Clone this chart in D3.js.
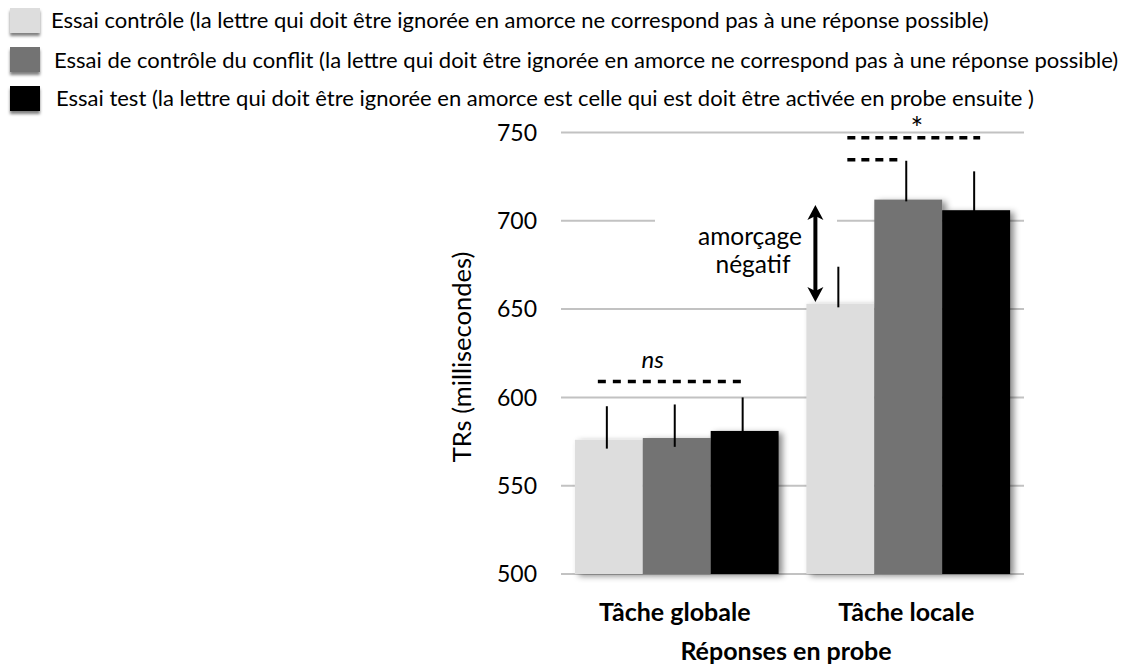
<!DOCTYPE html>
<html>
<head>
<meta charset="utf-8">
<script src="https://cdn.jsdelivr.net/npm/d3@7"></script>
<style>
  html, body { margin: 0; padding: 0; background: #fff; }
  svg { display: block; font-family: Lato, "Open Sans", sans-serif; }
</style>
</head>
<body>
<svg id="chart" width="1133" height="667"></svg>
<script>
// Task conditions (groups on the x axis)
const categories = ["Tâche globale", "Tâche locale"];

// Trial types (one bar per type within each task)
const seriesKeys = ["controle", "conflit", "test"];
const seriesLabels = [
  "Essai contrôle (la lettre qui doit être ignorée en amorce ne correspond pas à une réponse possible)",
  "Essai de contrôle du conflit (la lettre qui doit être ignorée en amorce ne correspond pas à une réponse possible)",
  "Essai test (la lettre qui doit être ignorée en amorce est celle qui est doit être activée en probe ensuite )"
];
const seriesColors = ["#dddddd", "#737373", "#000000"];

// Mean response times (ms), per trial type, for [globale, locale]
const controleRT = [576, 653];
const conflitRT  = [577, 712];
const testRT     = [581, 706];

// Error bar extents (ms): upper end and lower end of each whisker
const controleErrHigh = [595, 674];
const conflitErrHigh  = [596, 734];
const testErrHigh     = [600, 728];
const controleErrLow  = [571, 651];
const conflitErrLow   = [572, 711];
const testErrLow      = [578, 704];

// Y axis ticks
const yTicks = [500, 550, 600, 650, 700, 750];

// Significance markers (ms levels)
const nsLevel = 609;
const starLevels = [747, 734.5];
// Negative priming arrow: from control mean to conflict mean (local task)
const primingFrom = 654;
const primingTo = 709;

const rtBySeries = [controleRT, conflitRT, testRT];
const errHighBySeries = [controleErrHigh, conflitErrHigh, testErrHigh];
const errLowBySeries = [controleErrLow, conflitErrLow, testErrLow];

const svg = d3.select("#chart");

// Shadow filters
const defs = svg.append("defs");
const barShadow = defs.append("filter").attr("id", "barShadow")
  .attr("x", "-10%").attr("y", "-10%").attr("width", "130%").attr("height", "130%");
barShadow.append("feDropShadow")
  .attr("dx", 4).attr("dy", 2).attr("stdDeviation", 3)
  .attr("flood-color", "#000").attr("flood-opacity", 0.45);
const swatchShadow = defs.append("filter").attr("id", "swatchShadow")
  .attr("x", "-20%").attr("y", "-20%").attr("width", "150%").attr("height", "160%");
swatchShadow.append("feDropShadow")
  .attr("dx", 0).attr("dy", 3).attr("stdDeviation", 1.5)
  .attr("flood-color", "#000").attr("flood-opacity", 0.5);

// Scales
const x0 = d3.scaleBand().domain(categories).range([561, 1024])
  .paddingInner(0.12).paddingOuter(0.06);
const x1 = d3.scaleBand().domain(seriesKeys).range([0, x0.bandwidth()]);
const y = d3.scaleLinear().domain([500, 750]).range([574, 132.5]);

// Gridlines
svg.append("g").selectAll("line").data(yTicks).join("line")
  .attr("x1", 561).attr("x2", 1024)
  .attr("y1", d => y(d)).attr("y2", d => y(d))
  .attr("stroke", "#c2c2c2").attr("stroke-width", 2);

// Y tick labels
const yAxis = d3.axisLeft(y).tickValues(yTicks).tickSize(0).tickPadding(0);
const yAxisG = svg.append("g").attr("transform", "translate(537,0)").call(yAxis);
yAxisG.select(".domain").remove();
yAxisG.selectAll("text")
  .attr("font-family", "Lato, sans-serif")
  .attr("font-size", 23).attr("fill", "#000").attr("dy", "0.34em");

// White box behind the negative priming label
svg.append("rect")
  .attr("x", 655).attr("width", 182)
  .attr("y", y(primingTo) - 10).attr("height", y(primingFrom) - y(primingTo) + 4)
  .attr("fill", "#fff");

// Bars
const groups = svg.append("g").selectAll("g").data(categories).join("g")
  .attr("transform", d => `translate(${x0(d)},0)`)
  .attr("filter", "url(#barShadow)");
groups.selectAll("rect")
  .data((c, ci) => seriesKeys.map((k, si) => ({ k, si, v: rtBySeries[si][ci] })))
  .join("rect")
  .attr("x", d => x1(d.k))
  .attr("width", x1.bandwidth())
  .attr("y", d => y(d.v))
  .attr("height", d => y(500) - y(d.v))
  .attr("fill", d => seriesColors[d.si]);

// Error bars
const errData = [];
categories.forEach((c, ci) => seriesKeys.forEach((k, si) => {
  errData.push({ x: x0(c) + x1(k) + x1.bandwidth() / 2,
    hi: errHighBySeries[si][ci], lo: errLowBySeries[si][ci] });
}));
svg.append("g").selectAll("line").data(errData).join("line")
  .attr("x1", d => d.x - 2).attr("x2", d => d.x - 2)
  .attr("y1", d => y(d.hi)).attr("y2", d => y(d.lo))
  .attr("stroke", "#000").attr("stroke-width", 2);

// Helper: center of a bar
const cx = (c, k) => x0(c) + x1(k) + x1.bandwidth() / 2;

// "ns" marker over the global task
const nsG = svg.append("g");
nsG.append("line")
  .attr("x1", cx(categories[0], "controle") - 11).attr("x2", cx(categories[0], "test") + 3)
  .attr("y1", y(nsLevel)).attr("y2", y(nsLevel))
  .attr("stroke", "#000").attr("stroke-width", 3.5).attr("stroke-dasharray", "8,7");
nsG.append("text")
  .attr("x", (cx(categories[0], "controle") + cx(categories[0], "test")) / 2 - 24)
  .attr("y", y(nsLevel) - 14)
  .attr("text-anchor", "middle").attr("font-size", 24).attr("font-style", "italic")
  .text("ns");

// "*" marker over the local task
const starG = svg.append("g");
starG.append("line")
  .attr("x1", cx(categories[1], "controle") + 7).attr("x2", cx(categories[1], "test") + 4)
  .attr("y1", y(starLevels[0])).attr("y2", y(starLevels[0]))
  .attr("stroke", "#000").attr("stroke-width", 3.5).attr("stroke-dasharray", "8,6");
starG.append("line")
  .attr("x1", cx(categories[1], "controle") + 7).attr("x2", cx(categories[1], "conflit") - 6)
  .attr("y1", y(starLevels[1])).attr("y2", y(starLevels[1]))
  .attr("stroke", "#000").attr("stroke-width", 3.5).attr("stroke-dasharray", "8,6");
starG.append("text")
  .attr("x", 917).attr("y", 139)
  .attr("text-anchor", "middle").attr("font-size", 30)
  .text("*");

// Negative priming double arrow
const ax = x0(categories[1]) + 9;
const yTop = y(primingTo), yBot = y(primingFrom);
const arrowG = svg.append("g");
arrowG.append("line")
  .attr("x1", ax).attr("x2", ax).attr("y1", yTop + 10).attr("y2", yBot - 10)
  .attr("stroke", "#000").attr("stroke-width", 4);
arrowG.append("path")
  .attr("d", `M${ax},${yTop} L${ax - 8},${yTop + 15} L${ax},${yTop + 11} L${ax + 8},${yTop + 15} Z`)
  .attr("fill", "#000");
arrowG.append("path")
  .attr("d", `M${ax},${yBot} L${ax - 8},${yBot - 15} L${ax},${yBot - 11} L${ax + 8},${yBot - 15} Z`)
  .attr("fill", "#000");
const primeText = svg.append("text")
  .attr("text-anchor", "middle").attr("font-size", 24.5);
primeText.append("tspan").attr("x", 750).attr("y", 245).text("amorçage");
primeText.append("tspan").attr("x", 753).attr("y", 273).text("négatif");

// Category labels
svg.append("g").selectAll("text").data(categories).join("text")
  .attr("x", d => x0(d) + x0.bandwidth() / 2 - 2)
  .attr("y", 621)
  .attr("text-anchor", "middle").attr("font-size", 25).attr("font-weight", "bold")
  .text(d => d);

// Axis titles
svg.append("text")
  .attr("x", 786).attr("y", 660)
  .attr("text-anchor", "middle").attr("font-size", 25).attr("font-weight", "bold")
  .text("Réponses en probe");
svg.append("text")
  .attr("transform", `translate(471,357) rotate(-90)`)
  .attr("text-anchor", "middle").attr("font-size", 25.5)
  .text("TRs (millisecondes)");

// Legend
const legendRows = [
  { sy: 8, tx: 51, ty: 28 },
  { sy: 47, tx: 54, ty: 68 },
  { sy: 86, tx: 56, ty: 106 }
];
const legend = svg.append("g");
legend.selectAll("rect").data(seriesKeys).join("rect")
  .attr("x", 10).attr("y", (d, i) => legendRows[i].sy)
  .attr("width", 30).attr("height", 25)
  .attr("fill", (d, i) => seriesColors[i])
  .attr("filter", "url(#swatchShadow)");
legend.selectAll("text").data(seriesLabels).join("text")
  .attr("x", (d, i) => legendRows[i].tx).attr("y", (d, i) => legendRows[i].ty)
  .attr("font-size", 22)
  .text(d => d);
</script>
</body>
</html>
